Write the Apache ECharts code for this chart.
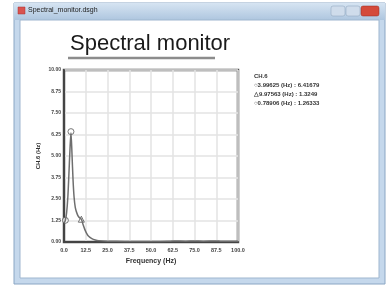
<!DOCTYPE html>
<html><head><meta charset="utf-8">
<script src="https://cdn.jsdelivr.net/npm/echarts@6/dist/echarts.min.js"></script>
<style>html,body{margin:0;padding:0;background:#fff}#c{width:389px;height:286px}</style>
</head><body><div id="c"></div>
<script>
var freq = [0, 0.8, 1.5, 2.2, 2.8, 3.4, 4.0, 4.6, 5.2, 5.8, 6.5, 7.5, 8.5, 10, 11, 12, 13, 14, 16, 18, 20, 25, 30, 40, 50, 60, 62.5, 70, 75, 80, 87.5, 90, 100];
var vals = [1.1, 1.26, 1.7, 2.6, 3.9, 5.3, 6.35, 5.1, 3.6, 2.6, 2.0, 1.65, 1.45, 1.32, 1.0, 0.72, 0.5, 0.35, 0.2, 0.12, 0.08, 0.05, 0.04, 0.03, 0.03, 0.04, 0.06, 0.05, 0.06, 0.05, 0.06, 0.05, 0.04];
var markerFreq = [3.99625, 9.97563, 0.78906];
var markerVals = [6.41679, 1.3249, 1.26333];
var markerSymbols = ['circle', 'triangle', 'circle'];
var markerGlyphs = ['○', '△', '○'];
var xTicks = [0, 12.5, 25, 37.5, 50, 62.5, 75, 87.5, 100];
var yTicks = [0, 1.25, 2.5, 3.75, 5, 6.25, 7.5, 8.75, 10];
var channel = 'CH.6';

var chart = echarts.init(document.getElementById('c'));
var legendLines = [channel];
for (var i = 0; i < markerFreq.length; i++) {
  legendLines.push(markerGlyphs[i] + markerFreq[i] + ' (Hz) : ' + markerVals[i]);
}
var graphics = [
  {type:'rect', shape:{x:14,y:3,width:371,height:281}, style:{fill:'#c5d8ec', stroke:'#8aa6c4', lineWidth:1}, z:-10},
  {type:'rect', shape:{x:14,y:3,width:371,height:17}, style:{fill:new echarts.graphic.LinearGradient(0,0,0,1,[{offset:0,color:'#d6e4f2'},{offset:1,color:'#aec6df'}])}, z:-9},
  {type:'rect', shape:{x:20,y:20,width:359,height:258}, style:{fill:'#ffffff', stroke:'#9fb6cf', lineWidth:1}, z:-8},
  {type:'rect', shape:{x:18,y:7,width:7,height:7}, style:{fill:'#d9534f', stroke:'#a33', lineWidth:0.5}, z:-7},
  {type:'text', left:28, top:7, style:{text:'Spectral_monitor.dsgh', fontSize:7, fill:'#222', fontFamily:'Liberation Sans'}, z:-7},
  {type:'rect', shape:{x:331,y:6,width:14,height:10, r:2}, style:{fill:'#cfdceb', stroke:'#8aa0b8', lineWidth:0.5}, z:-7},
  {type:'rect', shape:{x:346,y:6,width:14,height:10, r:2}, style:{fill:'#cfdceb', stroke:'#8aa0b8', lineWidth:0.5}, z:-7},
  {type:'rect', shape:{x:361,y:6,width:18,height:10, r:2}, style:{fill:'#d44a3a', stroke:'#9a2a20', lineWidth:0.5}, z:-7},
  {type:'line', shape:{x1:68,y1:58,x2:215,y2:58}, style:{stroke:'#8c8c8c', lineWidth:2.5}},
  {type:'text', left:254, top:72, style:{text:legendLines.join('\n'), fontSize:6, lineHeight:9, fill:'#333', fontWeight:'bold', fontFamily:'Liberation Sans'}}
];
chart.setOption({
  animation:false,
  title:{text:'Spectral monitor', left:65, top:28, textStyle:{fontSize:22, fontWeight:'normal', color:'#1a1a1a', fontFamily:'Liberation Sans'}},
  graphic:graphics,
  grid:{left:64, top:70, right:151, bottom:44, show:true, borderColor:'#505050', borderWidth:2.5, backgroundColor:'#fff'},
  xAxis:{type:'value', min:xTicks[0], max:xTicks[xTicks.length-1], interval:xTicks[1]-xTicks[0],
    name:'Frequency (Hz)', nameLocation:'middle', nameGap:15, nameTextStyle:{fontSize:7, color:'#333', fontWeight:'bold', fontFamily:'Liberation Sans'},
    axisLine:{lineStyle:{color:'#444', width:2}}, axisTick:{show:false},
    axisLabel:{fontSize:5.5, color:'#444', fontWeight:'bold', margin:5, formatter:function(v){return v.toFixed(1);}},
    splitLine:{lineStyle:{color:'#e3e3e3', width:1.5}}},
  yAxis:{type:'value', min:yTicks[0], max:yTicks[yTicks.length-1], interval:yTicks[1]-yTicks[0],
    name:channel+' (Hz)', nameLocation:'middle', nameGap:23, nameTextStyle:{fontSize:6, color:'#333', fontWeight:'bold', fontFamily:'Liberation Sans'},
    axisLine:{show:true, lineStyle:{color:'#444', width:2}}, axisTick:{show:false},
    axisLabel:{fontSize:5, color:'#444', fontWeight:'bold', margin:3, formatter:function(v){return v.toFixed(2);}},
    splitLine:{lineStyle:{color:'#e3e3e3', width:1.5}}},
  series:[
    {type:'line', data:freq.map(function(f,i){return [f, vals[i]];}), showSymbol:false, smooth:0.3,
      lineStyle:{color:'#6e6e6e', width:1.5}},
    {type:'scatter', data:markerFreq.map(function(f,i){return {value:[f, markerVals[i]], symbol:markerSymbols[i]};}),
      symbolSize:6, itemStyle:{color:'#fff', borderColor:'#555', borderWidth:1}}
  ]
});
</script></body></html>
